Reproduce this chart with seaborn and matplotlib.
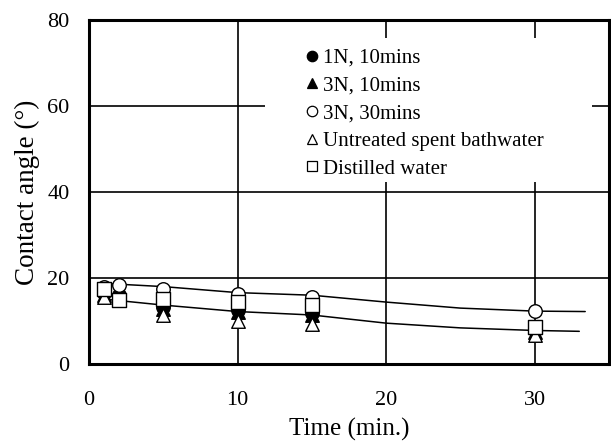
import matplotlib
matplotlib.use("Agg")
import matplotlib.pyplot as plt
import seaborn as sns
import pandas as pd
from matplotlib.lines import Line2D
from matplotlib.patches import Rectangle

sns.set_theme(style="white")
plt.rcParams['font.family'] = ['Liberation Serif', 'DejaVu Serif']

time = [1, 2, 5, 10, 15, 30]
n1_10 = [16.5, 16.0, 13.2, 12.5, 11.8, 7.8]
n3_10 = [16.0, 15.5, 12.8, 12.2, 11.4, 7.4]
n3_30 = [18.0, 18.3, 17.5, 16.2, 15.6, 12.3]
untreated = [15.6, 15.0, 11.4, 10.0, 9.2, 6.8]
distilled = [17.4, 14.9, 15.2, 14.5, 13.8, 8.6]

upper_x = [0.7, 5, 10, 15, 20, 25, 30, 33.4]
upper_y = [18.8, 18.0, 16.6, 16.0, 14.4, 13.0, 12.3, 12.2]
lower_x = [1, 5, 10, 15, 20, 25, 30, 33]
lower_y = [15.1, 13.7, 12.2, 11.4, 9.5, 8.4, 7.8, 7.6]

series = [
    ("1N, 10mins", n1_10, "o", "black"),
    ("3N, 10mins", n3_10, "^", "black"),
    ("3N, 30mins", n3_30, "o", "white"),
    ("Untreated spent bathwater", untreated, "^", "white"),
    ("Distilled water", distilled, "s", "white"),
]

fig = plt.figure(figsize=(6.11, 4.41), dpi=100)
ax = fig.add_axes([0.1457, 0.1746, 0.851, 0.78])

sns.lineplot(x=upper_x, y=upper_y, ax=ax, color="black", linewidth=1.1, sort=False, zorder=2)
sns.lineplot(x=lower_x, y=lower_y, ax=ax, color="black", linewidth=1.1, sort=False, zorder=2)

for i, (name, vals, m, fc) in enumerate(series):
    df = pd.DataFrame({"t": time, "v": vals})
    sns.scatterplot(data=df, x="t", y="v", ax=ax, marker=m, s=95,
                    facecolor=fc, edgecolor="black", linewidth=1.0,
                    zorder=3 + i, legend=False)

ax.set_xlim(0, 35)
ax.set_ylim(0, 80)
ax.set_xticks([0, 10, 20, 30])
ax.set_yticks([0, 20, 40, 60, 80])
ax.grid(True, color="black", linewidth=1.2)
ax.set_axisbelow(True)
for sp in ax.spines.values():
    sp.set_color("black")
    sp.set_linewidth(2.2)
ax.tick_params(axis="both", length=0, labelsize=16, colors="black")
ax.tick_params(axis="x", pad=19.5)
ax.tick_params(axis="y", pad=14)
ax.set_xlabel("Time (min.)", fontsize=18, color="black", labelpad=5.5)
ax.set_ylabel("Contact angle (°)", fontsize=19.5, color="black", labelpad=5)

# white background panel behind the legend (hides grid lines like the reference)
ax.add_patch(Rectangle((0.338, 0.529), 0.629, 0.419, transform=ax.transAxes,
                       facecolor="white", edgecolor="none", zorder=1.5))

handles = [Line2D([], [], linestyle="none", marker=m, markersize=7.5,
                  markerfacecolor=fc, markeredgecolor="black", markeredgewidth=0.9)
           for (_, _, m, fc) in series]
labels = [s[0] for s in series]
leg = ax.legend(handles, labels, loc="upper left", bbox_to_anchor=(0.413, 0.918),
                frameon=False, fontsize=15, handletextpad=0.12, handlelength=0.8,
                labelspacing=0.39, borderpad=0.0, borderaxespad=0.0)
for t in leg.get_texts():
    t.set_color("black")

fig.savefig("out.png", dpi=100)
